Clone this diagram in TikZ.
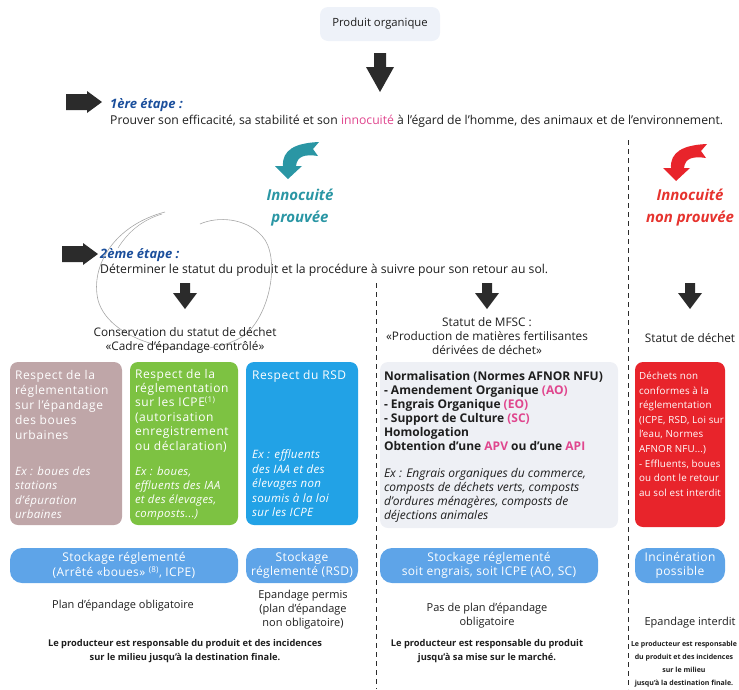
\documentclass[tikz,border=0pt]{standalone}
\usepackage{fontspec}
\setmainfont{Open Sans}
\usetikzlibrary{calc}
\definecolor{prodbg}{HTML}{EEF2F9}
\definecolor{etape}{HTML}{1B4F9C}
\definecolor{pinkc}{HTML}{E0468E}
\definecolor{tealc}{HTML}{2A96A4}
\definecolor{redc}{HTML}{E6332E}
\definecolor{boxgrey}{HTML}{BFA6A8}
\definecolor{boxgreen}{HTML}{7DC242}
\definecolor{boxblue}{HTML}{22A2E6}
\definecolor{boxmfsc}{HTML}{EEF0F5}
\definecolor{boxred}{HTML}{E8242B}
\definecolor{stock}{HTML}{5EA4E8}
\definecolor{arrowc}{HTML}{2B2B2B}
\definecolor{txtc}{HTML}{1E1E1E}
\begin{document}
\begin{tikzpicture}[x=1pt,y=-1pt,
  every node/.style={inner sep=0pt, text=txtc},
  maintext/.style={font=\fontsize{12.2}{14}\selectfont},
  headtext/.style={font=\fontsize{11.8}{14}\selectfont},
  lowtext/.style={font=\fontsize{11}{14}\selectfont},
  rbox/.style={rectangle, rounded corners=8pt, draw=none},
  sbox/.style={rectangle, rounded corners=12pt, draw=none, fill=stock, minimum height=35pt},
  intext/.style={text=white, align=left, font=\fontsize{12}{15}\selectfont\addfontfeatures{LetterSpace=5}},
  exttext/.style={text=white, align=left, font=\fontsize{11.5}{14.6}\selectfont\itshape\addfontfeatures{LetterSpace=3}},
  stocktext/.style={text=white, align=center, font=\fontsize{12}{14.5}\selectfont\addfontfeatures{LetterSpace=3}},
  boldsmall/.style={align=center, font=\fontsize{9.3}{13.5}\selectfont\bfseries},
  etapelabel/.style={anchor=base west, text=etape, font=\fontsize{13}{15}\selectfont\bfseries\itshape},
  divider/.style={draw=arrowc, line width=0.8pt, dash pattern=on 5pt off 4pt},
  bigdown/.pic={\fill[arrowc] (-6,0) -- (6,0) -- (6,14) -- (14,14) -- (0,39) -- (-14,14) -- (-6,14) -- cycle;},
  smalldown/.pic={\fill[arrowc] (-5,0) -- (5,0) -- (5,10) -- (12,10) -- (0,26) -- (-12,10) -- (-5,10) -- cycle;},
  rightarr/.pic={\fill[arrowc] (0,-8) -- (21,-8) -- (21,-11) -- (36,0) -- (21,11) -- (21,8) -- (0,8) -- cycle;},
  curvearr/.pic={\fill[pic actions] (31,-36) -- (25,-29) -- (30,-22) .. controls (17,-24) and (9,-22) .. (8,-12) -- (14,-12) -- (0,1) -- (-13,-12) -- (-5,-12) .. controls (-6,-28) and (7,-35) .. (31,-36) -- cycle;}
]
\useasboundingbox (0,0) rectangle (739,689);
\clip (0,0) rectangle (739,689);

% top
\node[rbox, fill=prodbg, minimum width=120pt, minimum height=34pt, font=\fontsize{11.3}{13}\selectfont] (prod) at (380,24) {Produit organique};
\pic at (380,53) {bigdown};

% etape 1
\pic at (66,102) {rightarr};
\node[etapelabel] (e1) at (110,108) {1ère étape :};
\node[anchor=base west, maintext] (e1t) at (110,124) {Prouver son efficacité, sa stabilité et son \textcolor{pinkc}{innocuité} à l’égard de l’homme, des animaux et de l’environnement.};

% innocuite
\pic[fill=tealc] at (288,178) {curvearr};
\pic[fill=boxred] at (676,180) {curvearr};
\node[align=center, text=tealc, font=\fontsize{15}{22}\selectfont\bfseries\itshape] (ip) at (300,208) {Innocuité\\prouvée};
\node[align=center, text=redc, font=\fontsize{15}{22}\selectfont\bfseries\itshape] (inp) at (690,208) {Innocuité\\non prouvée};

% etape 2
\pic at (62,254) {rightarr};
\node[etapelabel] (e2) at (100,258) {2ème étape :};
\node[anchor=base west, maintext] (e2t) at (100,273) {Déterminer le statut du produit et la procédure à suivre pour son retour au sol.};

% hand drawn loop
\draw[gray!70, line width=0.6pt] (165,212) .. controls (115,225) and (90,265) .. (98,300) .. controls (110,345) and (200,365) .. (245,335) .. controls (272,312) and (280,255) .. (262,236) .. controls (246,218) and (218,216) .. (200,224);
\draw[gray!70, line width=0.5pt] (118,248) .. controls (128,232) and (142,220) .. (162,214);

% dividers
\coordinate (d1a) at (376,283); \coordinate (d1b) at (376,689);
\coordinate (d2a) at (628,140); \coordinate (d2b) at (628,689);
\draw[divider] (d1a) -- (d1b);
\draw[divider] (d2a) -- (d2b);

% column arrows
\pic at (185,283) {smalldown};
\pic at (487,283) {smalldown};
\pic at (690,283) {smalldown};

% column headers
\node[align=center, headtext] (h1) at (185,340) {Conservation du statut de déchet\\«Cadre d’épandage contrôlé»};
\node[align=center, headtext] (h2) at (487,336) {Statut de MFSC :\\«Production de matières fertilisantes\\dérivées de déchet»};
\node[headtext] (h3) at (690,338) {Statut de déchet};

% boxes
\node[rbox, fill=boxgrey, minimum width=112pt, minimum height=163pt] (b1) at (66,443.5) {};
\node[rbox, fill=boxgreen, minimum width=108pt, minimum height=163pt] (b2) at (184,443.5) {};
\node[rbox, fill=boxblue, minimum width=112pt, minimum height=163pt] (b3) at (302,443.5) {};
\node[rbox, fill=boxmfsc, minimum width=238pt, minimum height=166pt] (b4) at (499,445) {};
\node[rbox, fill=boxred, minimum width=90pt, minimum height=165pt] (b5) at (680,444.5) {};

\node[intext, anchor=north west] at ($(b1.north west)+(5,8)$) {Respect de la\\réglementation\\sur l’épandage\\des boues\\urbaines};
\node[exttext, anchor=south west] at ($(b1.south west)+(5,-6)$) {Ex : boues des\\stations\\d’épuration\\urbaines};
\node[intext, anchor=north west, font=\fontsize{12}{14.4}\selectfont\addfontfeatures{LetterSpace=5}] at ($(b2.north west)+(5,7)$) {Respect de la\\réglementation\\sur les ICPE\textsuperscript{(1)}\\(autorisation\\enregistrement\\ou déclaration)};
\node[exttext, anchor=south west, font=\fontsize{11.3}{13.8}\selectfont\itshape\addfontfeatures{LetterSpace=3}] at ($(b2.south west)+(5,-5)$) {Ex : boues,\\effluents des IAA\\et des élevages,\\composts...)};
\node[intext, anchor=north west] at ($(b3.north west)+(6,8)$) {Respect du RSD};
\node[exttext, anchor=south west] at ($(b3.south west)+(6,-8)$) {Ex : effluents\\des IAA et des\\élevages non\\soumis à la loi\\sur les ICPE};

\node[align=left, anchor=north west, font=\fontsize{12}{14}\selectfont\bfseries] at ($(b4.north west)+(4,9)$) {Normalisation (Normes AFNOR NFU)\\- Amendement Organique \textcolor{pinkc}{(AO)}\\- Engrais Organique \textcolor{pinkc}{(EO)}\\- Support de Culture \textcolor{pinkc}{(SC)}\\Homologation\\Obtention d’une \textcolor{pinkc}{APV} ou d’une \textcolor{pinkc}{API}};
\node[align=left, anchor=south west, font=\fontsize{12}{14}\selectfont\itshape] at ($(b4.south west)+(4,-6)$) {Ex : Engrais organiques du commerce,\\composts de déchets verts, composts\\d’ordures ménagères, composts de\\déjections animales};

\node[intext, anchor=north west, font=\fontsize{9.8}{14.6}\selectfont\addfontfeatures{LetterSpace=2}] at ($(b5.north west)+(4,10)$) {Déchets non\\conformes à la\\réglementation\\(ICPE, RSD, Loi sur\\l’eau, Normes\\AFNOR NFU...)\\- Effluents, boues\\ou dont le retour\\au sol est interdit};

% stockage
\node[sbox, minimum width=228pt, stocktext] (s1) at (124,565.5) {Stockage réglementé\\(Arrêté «boues» \textsuperscript{(8)}, ICPE)};
\node[sbox, minimum width=112pt, stocktext] (s2) at (302,565.5) {Stockage\\réglementé (RSD)};
\node[sbox, minimum width=218pt, stocktext] (s3) at (489,565.5) {Stockage réglementé\\soit engrais, soit ICPE (AO, SC)};
\node[sbox, minimum width=90pt, stocktext] (s4) at (680,565.5) {Incinération\\possible};

% bottom texts
\node[lowtext] (p1) at (123,606) {Plan d’épandage obligatoire};
\node[align=center, lowtext] (p2) at (303,610) {Epandage permis\\(plan d’épandage\\non obligatoire)};
\node[align=center, lowtext] (p3) at (487,616) {Pas de plan d’épandage\\obligatoire};
\node[lowtext] (p4) at (690,623) {Epandage interdit};
\node[boldsmall] (r1) at (185,651) {Le producteur est responsable du produit et des incidences\\sur le milieu jusqu’à la destination finale.};
\node[boldsmall] (r2) at (487,651) {Le producteur est responsable du produit\\jusqu’à sa mise sur le marché.};
\node[boldsmall, font=\fontsize{7}{13.2}\selectfont\bfseries] (r3) at (684,664) {Le producteur est responsable\\du produit et des incidences\\sur le milieu\\jusqu’à la destination finale.};
\end{tikzpicture}
\end{document}
